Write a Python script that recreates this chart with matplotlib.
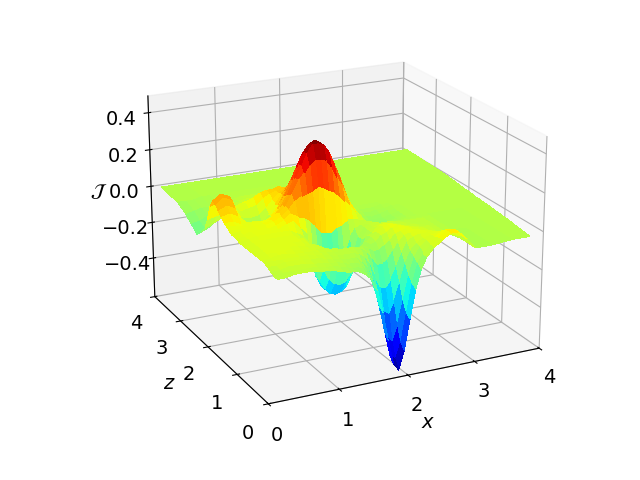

import numpy as np, matplotlib
matplotlib.use('Agg')
import matplotlib.pyplot as plt

x_nodes = [.28,.4,.52,.64,.76,.88,1.0,1.1,1.2,1.3,1.38,1.46,1.54,1.62,1.7,1.78,1.86,1.94,2.02,2.1,2.18,2.26,2.34,2.42,2.52,2.64,2.76,2.88,3.0,3.15,3.4,3.7,4.2]
z_nodes = [.3,.4,.5,.6,.7,.8,.9,1.0,1.13,1.26,1.39,1.5,1.6,1.68,1.76,1.84,1.92,2.0,2.1,2.2,2.3,2.4,2.5,2.6,2.7,2.85,3.0,3.2,3.4,3.7,4.35]
# the far x edge of the surface is not square to the axes: its x at each z node
x_edge = [3.98,3.99,4.0,4.01,4.02,4.03,4.04,4.05,4.06,4.07,4.08,4.09,4.1,4.1,4.11,4.11,4.12,4.12,4.13,4.14,4.15,4.15,4.16,4.17,4.18,4.19,4.2,4.21,4.22,4.23,4.25]
# surface height in hundredths, one row per z node
J_percent = [
 [-5,-5,-4,-4,-4,-5,-5,-6,-7,-8,-8,-9,-11,-14,-20,-32,-47,-60,-64,-54,-38,-23,-13,-7,-3,0,3,3,-1,-7,-7,-6,-6],
 [-5,-4,-4,-4,-4,-4,-5,-5,-6,-7,-8,-8,-9,-13,-19,-30,-44,-57,-60,-51,-36,-21,-11,-7,-3,0,3,3,-1,-7,-7,-6,-6],
 [-4,-4,-3,-3,-3,-4,-4,-5,-5,-6,-7,-7,-8,-11,-16,-25,-37,-48,-51,-43,-31,-18,-9,-5,-2,-1,2,2,-2,-7,-7,-6,-6],
 [-3,-3,-2,-2,-2,-3,-3,-4,-5,-5,-6,-6,-6,-9,-12,-19,-28,-36,-38,-32,-23,-13,-7,-4,-2,-1,0,0,-3,-7,-7,-6,-6],
 [-2,-2,-2,-2,-2,-2,-3,-3,-4,-5,-5,-5,-5,-6,-8,-12,-19,-25,-26,-22,-16,-9,-4,-2,-1,-1,-1,-2,-4,-7,-7,-6,-6],
 [-2,-2,-1,-1,-2,-2,-2,-3,-4,-4,-5,-5,-5,-5,-5,-7,-11,-15,-15,-13,-9,-5,-2,-1,0,-1,-2,-3,-5,-7,-7,-6,-6],
 [-2,-1,-1,-1,-1,-2,-2,-3,-3,-4,-4,-5,-5,-5,-6,-6,-7,-9,-9,-7,-5,-2,-1,0,-1,-2,-3,-4,-5,-7,-7,-6,-6],
 [-2,-1,-1,-1,-1,-1,-2,-2,-3,-5,-6,-7,-8,-8,-7,-7,-7,-7,-6,-3,-2,0,1,0,-1,-2,-3,-4,-5,-6,-7,-6,-6],
 [-2,-1,-1,-1,-1,-1,-1,-3,-4,-6,-7,-9,-11,-12,-11,-10,-9,-7,-5,-3,0,0,0,-1,-2,-3,-4,-4,-5,-6,-7,-6,-6],
 [-2,-1,-1,-1,-1,-1,-1,-2,-5,-8,-19,-25,-28,-29,-28,-24,-20,-12,-6,-5,-2,-1,-1,-2,-3,-4,-4,-5,-5,-6,-7,-6,-6],
 [-2,-1,-1,-1,-1,-1,-1,-3,-5,-14,-27,-32,-35,-36,-35,-33,-27,-18,-9,-5,-4,-3,-3,-3,-4,-4,-5,-5,-5,-6,-7,-6,-6],
 [-2,-1,0,0,0,0,0,-2,-4,-13,-26,-32,-35,-36,-35,-33,-28,-18,-9,-5,-4,-3,-4,-4,-4,-5,-5,-5,-5,-6,-7,-6,-6],
 [-1,-1,0,0,0,0,2,3,-1,-5,-14,-21,-27,-30,-29,-24,-18,-10,-6,-5,-5,-4,-5,-6,-6,-6,-6,-6,-6,-6,-7,-6,-6],
 [-1,-1,0,0,0,1,3,6,4,3,1,-2,-6,-7,-7,-5,-4,-2,-2,-3,-4,-5,-7,-7,-8,-7,-7,-6,-6,-6,-6,-6,-6],
 [-1,0,0,0,1,2,4,7,11,13,14,15,17,16,14,13,10,7,4,0,-2,-6,-7,-8,-9,-8,-7,-7,-6,-6,-6,-6,-6],
 [0,0,0,0,1,2,5,8,14,21,24,28,30,30,29,25,19,14,7,2,-2,-6,-8,-9,-10,-9,-8,-7,-6,-6,-6,-6,-6],
 [1,1,0,0,1,1,4,8,13,21,27,33,37,37,36,32,25,18,10,3,-2,-6,-8,-9,-10,-9,-8,-7,-6,-6,-6,-6,-6],
 [2,2,0,0,0,0,2,6,12,20,27,33,37,38,36,32,25,18,10,3,-1,-6,-8,-9,-9,-9,-8,-7,-6,-6,-6,-6,-6],
 [4,5,3,-1,-1,-2,0,4,10,18,24,30,34,34,33,29,22,16,8,3,-2,-5,-7,-8,-9,-8,-7,-7,-6,-6,-6,-6,-6],
 [6,8,6,-2,-3,-5,-4,0,6,14,19,24,27,28,26,23,18,12,7,1,-2,-5,-6,-7,-8,-7,-7,-6,-6,-6,-6,-6,-6],
 [8,11,9,-3,-7,-9,-8,-2,3,10,14,18,19,20,19,16,12,8,3,0,-3,-4,-6,-7,-7,-7,-6,-6,-6,-6,-6,-6,-6],
 [9,12,10,-4,-7,-9,-8,-3,2,7,9,12,13,13,12,10,7,4,1,-1,-3,-4,-5,-6,-6,-6,-6,-6,-6,-6,-6,-6,-6],
 [5,7,6,-2,-4,-5,-4,-1,3,6,8,10,10,9,8,6,3,1,-1,-3,-4,-5,-6,-6,-6,-6,-6,-6,-6,-6,-6,-6,-6],
 [-3,-2,-1,-2,-2,-1,0,3,5,6,7,7,7,5,4,2,0,-2,-3,-4,-5,-6,-6,-6,-6,-6,-6,-6,-6,-6,-6,-6,-6],
 [-9,-7,-5,-3,-1,1,3,5,6,6,7,6,4,3,1,-1,-3,-4,-4,-5,-5,-6,-6,-6,-6,-6,-6,-6,-6,-6,-6,-6,-6],
 [-13,-11,-8,-5,-3,-1,0,1,2,2,2,1,0,-1,-2,-3,-4,-5,-5,-5,-5,-6,-6,-6,-6,-6,-6,-6,-6,-6,-6,-6,-6],
 [-16,-14,-11,-8,-6,-4,-3,-2,-1,-1,-2,-2,-3,-3,-4,-4,-5,-5,-5,-5,-5,-6,-6,-6,-6,-6,-6,-6,-6,-6,-6,-6,-6],
 [-13,-12,-10,-8,-7,-6,-5,-4,-4,-4,-4,-4,-4,-5,-5,-5,-5,-5,-5,-5,-6,-6,-6,-6,-6,-6,-6,-6,-6,-6,-6,-6,-6],
 [-10,-9,-8,-8,-7,-6,-6,-5,-5,-5,-5,-5,-5,-5,-5,-6,-6,-6,-6,-6,-6,-6,-6,-6,-6,-6,-6,-6,-6,-6,-6,-6,-6],
 [-7,-7,-7,-6,-6,-6,-6,-6,-6,-6,-6,-6,-6,-6,-6,-6,-6,-6,-6,-6,-6,-6,-6,-6,-6,-6,-6,-6,-6,-6,-6,-6,-6],
 [-6,-6,-6,-6,-6,-6,-6,-6,-6,-6,-6,-6,-6,-6,-6,-6,-6,-6,-6,-6,-6,-6,-6,-6,-6,-6,-6,-6,-6,-6,-6,-6,-6],
]
x_ticks=[0,1,2,3,4]; z_ticks=[0,1,2,3,4]; j_ticks=[-.4,-.2,0,.2,.4]

plt.rcParams['font.size']=14
fig=plt.figure(figsize=(6.4,4.8),dpi=100)
ax=fig.add_axes([0.125+8/640,0.11+17/480,0.775,0.77],projection='3d')
ax.set_box_aspect((4,4,3),zoom=1.23)
X,Z=np.meshgrid(x_nodes,z_nodes)
X[:,-1]=x_edge
J=np.array(J_percent)/100
surf=ax.plot_surface(X,Z,J,cmap='jet',vmin=-.64,vmax=.38,rstride=1,cstride=1,linewidth=0,antialiased=False,shade=False)
surf.set_clip_on(False)
ax.set_xlim(0,4);ax.set_ylim(0,4);ax.set_zlim(-0.62,0.49)
ax.set_xticks(x_ticks);ax.set_yticks(z_ticks);ax.set_zticks(j_ticks)
ax.set_xlabel('$x$',labelpad=-1);ax.set_ylabel('$z$',labelpad=-1)
ax.zaxis.set_rotate_label(False)
ax.set_zlabel(r'$\mathcal{J}$',labelpad=-1,rotation=0)
ax.tick_params(axis='x',pad=1)
ax.tick_params(axis='y',pad=2)
ax.tick_params(axis='z',pad=2)
ax.view_init(elev=20,azim=-116)
fig.savefig('out.png',dpi=100)
